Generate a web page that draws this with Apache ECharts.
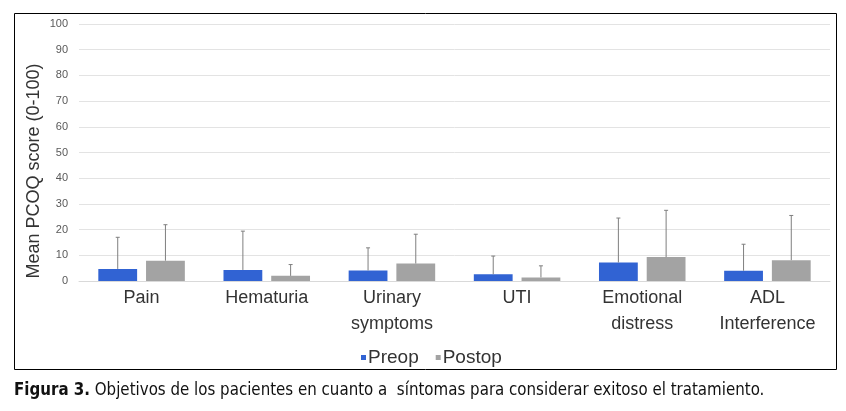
<!DOCTYPE html>
<html><head><meta charset="utf-8">
<script src="https://cdn.jsdelivr.net/npm/echarts@6/dist/echarts.min.js"></script>
<style>html,body{margin:0;padding:0;background:#fff}#c{width:846px;height:411px}</style>
</head><body><div id="c"></div>
<script>
const categories = ['Pain','Hematuria','Urinary\nsymptoms','UTI','Emotional\ndistress','ADL\nInterference'];
const preop = [4.7, 4.3, 4.1, 2.6, 7.2, 4.0];
const postop = [7.9, 2.0, 6.8, 1.4, 9.3, 8.1];
const preopErrTop = [17.0, 19.4, 12.9, 9.7, 24.5, 14.3];
const postopErrTop = [21.9, 6.4, 18.2, 5.9, 27.5, 25.5];
const yTicks = [0,10,20,30,40,50,60,70,80,90,100];

const BW = 0.31, GAP = 0.23;
function errSeries(name, tops, vals, idx) {
  return {
    type: 'custom', name: name + ' err', silent: true, z: 5,
    data: tops.map((t, i) => [i, vals[i], t]),
    renderItem: function (params, api) {
      const band = api.size([1, 0])[0];
      const bw = band * BW;
      const off = (bw + bw * GAP) / 2 * (idx === 0 ? -1 : 1);
      const base = api.coord([api.value(0), api.value(1)]);
      const top = api.coord([api.value(0), api.value(2)]);
      const x = base[0] + off;
      const st = { stroke: '#7f7f7f', lineWidth: 1 };
      return { type: 'group', children: [
        { type: 'line', shape: { x1: x, y1: base[1], x2: x, y2: top[1] }, style: st },
        { type: 'line', shape: { x1: x - 2, y1: top[1], x2: x + 2, y2: top[1] }, style: st }
      ]};
    }
  };
}

const capFont = 'Liberation Sans Narrow, DejaVu Sans Condensed, sans-serif';
const chart = echarts.init(document.getElementById('c'));
chart.setOption({
  animation: false,
  textStyle: { fontFamily: 'Liberation Sans, Arial, sans-serif' },
  grid: { left: 79, right: 16, top: 24, bottom: 130 },
  legend: {
    data: ['Preop', 'Postop'], top: 343, left: 356,
    itemWidth: 5, itemHeight: 5, itemGap: 17, icon: 'rect',
    textStyle: { fontSize: 19, color: '#333', padding: [0, 0, 0, -3] }
  },
  xAxis: {
    type: 'category', data: categories,
    axisLine: { lineStyle: { color: '#d9d9d9' } },
    axisTick: { show: false },
    axisLabel: { fontSize: 18, color: '#333', margin: 4, lineHeight: 26 }
  },
  yAxis: {
    type: 'value', min: 0, max: 100, interval: 10,
    axisLabel: { fontSize: 11, color: '#595959', margin: 11 },
    splitLine: { lineStyle: { color: '#e3e3e3' } },
    axisLine: { show: false }, axisTick: { show: false }
  },
  series: [
    { name: 'Preop', type: 'bar', data: preop, barWidth: (BW*100)+'%', barGap: (GAP*100)+'%', itemStyle: { color: '#3163d3' } },
    { name: 'Postop', type: 'bar', data: postop, barWidth: (BW*100)+'%', itemStyle: { color: '#a3a3a3' } },
    errSeries('Preop', preopErrTop, preop, 0),
    errSeries('Postop', postopErrTop, postop, 1)
  ],
  graphic: [
    { type: 'rect', shape: { x: 14.5, y: 13.5, width: 822, height: 356 }, style: { fill: 'none', stroke: '#000', lineWidth: 1 }, silent: true },
    { type: 'text', x: 34, y: 171, rotation: Math.PI / 2, silent: true, style: {
      text: 'Mean PCOQ score (0-100)', fontSize: 18, fill: '#333', align: 'center', verticalAlign: 'middle',
      fontFamily: 'Liberation Sans, Arial, sans-serif'
    } },
    { type: 'text', x: 14, y: 390, scaleX: 0.93, silent: true, style: {
      text: '{b|Figura 3.} Objetivos de los pacientes en cuanto a  síntomas para considerar exitoso el tratamiento.',
      rich: { b: { fontWeight: 'bold', fontSize: 18, fontFamily: capFont, fill: '#111' } },
      fontSize: 18, fontFamily: capFont, fill: '#111', verticalAlign: 'middle'
    } }
  ]
});
</script></body></html>
